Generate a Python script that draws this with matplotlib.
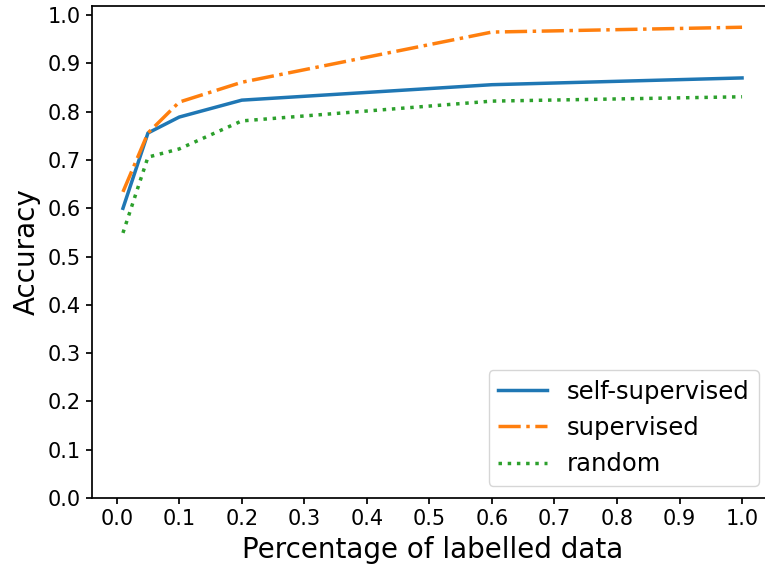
import matplotlib
matplotlib.use('Agg')
import matplotlib.pyplot as plt
import numpy as np

# fraction of labelled data used
pct = [0.01, 0.05, 0.1, 0.2, 0.6, 1.0]

# accuracy per method
self_supervised = [0.600, 0.756, 0.789, 0.824, 0.856, 0.870]
supervised = [0.634, 0.756, 0.820, 0.861, 0.965, 0.975]
random_init = [0.549, 0.706, 0.723, 0.781, 0.822, 0.831]

fig = plt.figure(figsize=(7.65, 5.67), dpi=100)
# axes run a little past the right border, like the cropped original
ax = fig.add_axes([92 / 765, 69 / 567, 681 / 765, 492 / 567])

ax.plot(pct, self_supervised, '-', color='tab:blue', lw=2.5, label='self-supervised')
ax.plot(pct, supervised, '-.', color='tab:orange', lw=2.5, label='supervised')
ax.plot(pct, random_init, ':', color='tab:green', lw=2.5, label='random')

ax.set_xlim(-0.0395, 1.0495)
ax.set_ylim(0, 1.019)
ax.set_xticks(np.arange(0, 1.01, 0.1))
ax.set_yticks(np.arange(0, 1.01, 0.1))
ax.tick_params(labelsize=15, width=1.25, length=4.5)
for s in ax.spines.values():
    s.set_linewidth(1.25)
ax.set_xlabel('Percentage of labelled data', fontsize=20, labelpad=5)
ax.set_ylabel('Accuracy', fontsize=20, labelpad=5)
ax.legend(loc='lower right', fontsize=17.5, bbox_to_anchor=(0.997, 0.0),
          handlelength=2.0)

fig.savefig('out.png', dpi=100)
